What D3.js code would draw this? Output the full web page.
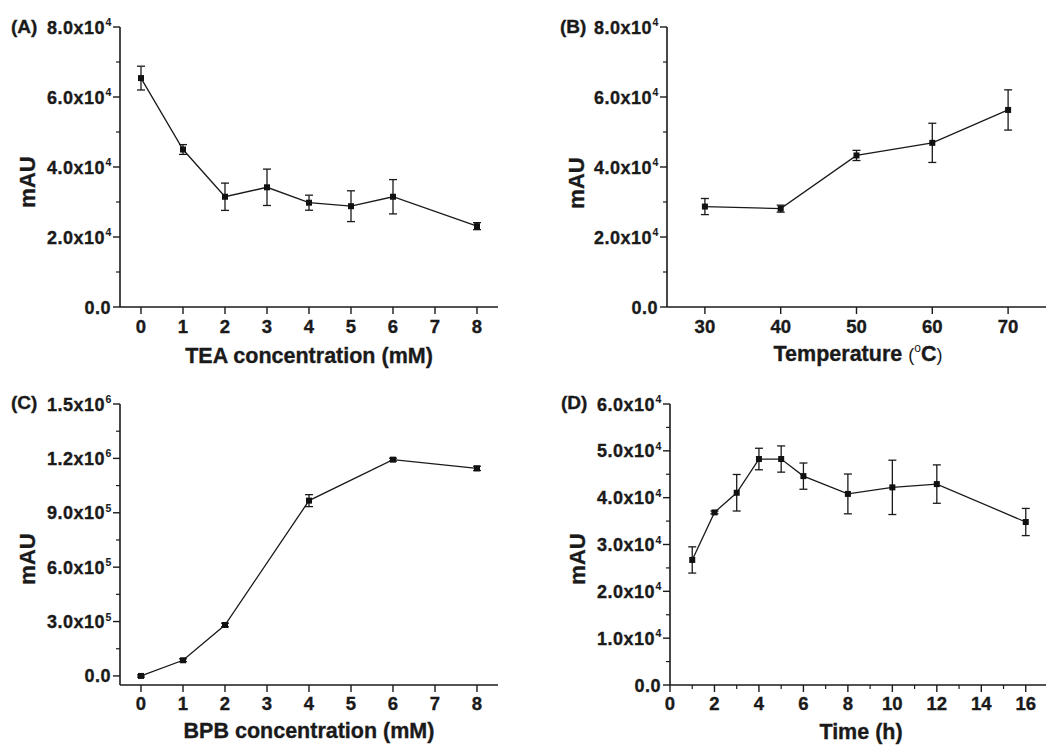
<!DOCTYPE html>
<html>
<head>
<meta charset="utf-8">
<script src="https://cdn.jsdelivr.net/npm/d3@7"></script>
<style>
  html, body { margin: 0; padding: 0; background: #fff; }
  svg { display: block; }
  text { font-family: Arial, "Liberation Sans", Helvetica, sans-serif; font-weight: bold; fill: #1a1a1a; stroke: #1a1a1a; stroke-width: 0.35px; }
</style>
</head>
<body>
<svg id="chart" width="1046" height="749"></svg>
<script>
// ---------- Data ----------
// Panel A: TEA concentration
const teaX   = [0, 1, 2, 3, 4, 5, 6, 8];
const teaY   = [65400, 45000, 31500, 34200, 29800, 28800, 31500, 23100];
const teaErr = [3400, 1400, 3900, 5200, 2150, 4400, 4900, 1000];
const teaXTicks = [0, 1, 2, 3, 4, 5, 6, 7, 8];
const teaYTicks = [0, 20000, 40000, 60000, 80000];

// Panel B: Temperature
const tempX   = [30, 40, 50, 60, 70];
const tempY   = [28700, 28100, 43300, 46900, 56300];
const tempErr = [2300, 1000, 1450, 5600, 5750];
const tempXTicks = [30, 40, 50, 60, 70];
const tempYTicks = [0, 20000, 40000, 60000, 80000];

// Panel C: BPB concentration
const bpbX   = [0, 1, 2, 4, 6, 8];
const bpbY   = [0, 86400, 281000, 967000, 1193000, 1145000];
const bpbErr = [6000, 8000, 10000, 33000, 8000, 12000];
const bpbXTicks = [0, 1, 2, 3, 4, 5, 6, 7, 8];
const bpbYTicks = [0, 300000, 600000, 900000, 1200000, 1500000];

// Panel D: Time
const timeX   = [1, 2, 3, 4, 5, 6, 8, 10, 12, 16];
const timeY   = [26700, 36850, 41050, 48250, 48250, 44600, 40800, 42200, 42900, 34800];
const timeErr = [2800, 300, 3900, 2300, 2800, 2800, 4250, 5800, 4100, 2900];
const timeXTicks = [0, 2, 4, 6, 8, 10, 12, 14, 16];
const timeYTicks = [0, 10000, 20000, 30000, 40000, 50000, 60000];

// ---------- Drawing ----------
const svg = d3.select("#chart");
const INK = "#1a1a1a";

function sciParts(v) {
  if (v === 0) return ["0.0", null];
  const e = Math.floor(Math.log10(Math.abs(v)) + 1e-9);
  const m = v / Math.pow(10, e);
  return [m.toFixed(1) + "x10", String(e)];
}

function panel(cfg) {
  const g = svg.append("g");
  const x = d3.scaleLinear().domain(cfg.xDomain).range(cfg.xRange);
  const y = d3.scaleLinear().domain(cfg.yDomain).range(cfg.yRange);
  const x0 = cfg.xRange[0], yb = cfg.yRange[0];

  // axis lines
  g.append("line").attr("x1", x0).attr("x2", x0)
    .attr("y1", y(cfg.yTicks[cfg.yTicks.length - 1])).attr("y2", yb)
    .attr("stroke", INK).attr("stroke-width", 1.6);
  g.append("line").attr("x1", x0).attr("x2", cfg.xRange[1])
    .attr("y1", yb).attr("y2", yb)
    .attr("stroke", INK).attr("stroke-width", 1.6);

  // y major ticks + labels
  cfg.yTicks.forEach(v => {
    const yy = y(v);
    g.append("line").attr("x1", x0 - 7).attr("x2", x0).attr("y1", yy).attr("y2", yy)
      .attr("stroke", INK).attr("stroke-width", 1.4);
    const [main, sup] = sciParts(v);
    const supW = sup ? 6 : 0;
    g.append("text").attr("x", x0 - 9 - supW).attr("y", yy + 6.5)
      .attr("text-anchor", "end").attr("font-size", 18).attr("letter-spacing", 0.5)
      .text(main);
    if (sup) {
      g.append("text").attr("x", x0 - 9 - supW + 0.5).attr("y", yy - 1)
        .attr("text-anchor", "start").attr("font-size", 10.5)
        .style("stroke-width", "0.1px")
        .text(sup);
    }
  });
  // y minor ticks (midpoints)
  for (let i = 0; i < cfg.yTicks.length - 1; i++) {
    const yy = y((cfg.yTicks[i] + cfg.yTicks[i + 1]) / 2);
    g.append("line").attr("x1", x0 - 4).attr("x2", x0).attr("y1", yy).attr("y2", yy)
      .attr("stroke", INK).attr("stroke-width", 1.2);
  }

  // x ticks
  cfg.xTicks.forEach(v => {
    const xx = x(v);
    g.append("line").attr("x1", xx).attr("x2", xx).attr("y1", yb).attr("y2", yb + 7)
      .attr("stroke", INK).attr("stroke-width", 1.4);
    g.append("text").attr("x", xx).attr("y", yb + cfg.xLabelDy)
      .attr("text-anchor", "middle").attr("font-size", 18.5).text(v);
  });
  if (cfg.xMinor) {
    cfg.xMinor.forEach(v => {
      const xx = x(v);
      g.append("line").attr("x1", xx).attr("x2", xx).attr("y1", yb).attr("y2", yb + 4)
        .attr("stroke", INK).attr("stroke-width", 1.2);
    });
  }

  // x title
  const xt = g.append("text").attr("x", cfg.xTitleX).attr("y", cfg.xTitleY)
    .attr("text-anchor", "middle").attr("font-size", 21.5);
  cfg.xTitle(xt);

  // y title
  g.append("text").attr("transform", `translate(${cfg.yTitleX},${cfg.yTitleY}) rotate(-90)`)
    .attr("text-anchor", "middle").attr("font-size", 22).text("mAU");

  // panel label
  g.append("text").attr("x", cfg.labelX).attr("y", cfg.labelY)
    .attr("font-size", 19).text(cfg.label);

  // data line
  const pts = cfg.xs.map((d, i) => [d, cfg.ys[i], cfg.errs[i]]);
  g.append("path").datum(pts)
    .attr("d", d3.line().x(d => x(d[0])).y(d => y(d[1])))
    .attr("fill", "none").attr("stroke", INK).attr("stroke-width", 1.3);

  // error bars
  const eb = g.selectAll(".eb").data(pts).enter().append("g");
  eb.append("line").attr("x1", d => x(d[0])).attr("x2", d => x(d[0]))
    .attr("y1", d => y(d[1] + d[2])).attr("y2", d => y(d[1] - d[2]))
    .attr("stroke", INK).attr("stroke-width", 1.3);
  [1, -1].forEach(s => {
    eb.append("line").attr("x1", d => x(d[0]) - 4).attr("x2", d => x(d[0]) + 4)
      .attr("y1", d => y(d[1] + s * d[2])).attr("y2", d => y(d[1] + s * d[2]))
      .attr("stroke", INK).attr("stroke-width", 1.3);
  });

  // markers
  g.selectAll(".mk").data(pts).enter().append("rect")
    .attr("x", d => x(d[0]) - 3).attr("y", d => y(d[1]) - 3)
    .attr("width", 6).attr("height", 6).attr("fill", "#111");
}

panel({
  label: "(A)", labelX: 11, labelY: 33,
  xs: teaX, ys: teaY, errs: teaErr,
  xDomain: [-0.5, 8.5], xRange: [120, 498],
  yDomain: [0, 80000], yRange: [307, 27],
  xTicks: teaXTicks, yTicks: teaYTicks, xLabelDy: 26,
  xTitleX: 309, xTitleY: 363,
  xTitle: t => t.text("TEA concentration (mM)"),
  yTitleX: 35, yTitleY: 182
});

panel({
  label: "(B)", labelX: 560, labelY: 33,
  xs: tempX, ys: tempY, errs: tempErr,
  xDomain: [25, 75], xRange: [667, 1046],
  yDomain: [0, 80000], yRange: [307, 27],
  xTicks: tempXTicks, yTicks: tempYTicks, xLabelDy: 26,
  xTitleX: 858, xTitleY: 361,
  xTitle: t => {
    t.append("tspan").text("Temperature ");
    t.append("tspan").attr("font-weight", "normal").attr("font-size", 18).style("stroke-width", "0px").text("(");
    t.append("tspan").attr("font-weight", "normal").attr("font-size", 12).style("stroke-width", "0px").attr("dy", -9).text("o");
    t.append("tspan").attr("dy", 9).text("C");
    t.append("tspan").attr("font-weight", "normal").attr("font-size", 18).style("stroke-width", "0px").text(")");
  },
  yTitleX: 584, yTitleY: 183
});

panel({
  label: "(C)", labelX: 11, labelY: 409,
  xs: bpbX, ys: bpbY, errs: bpbErr,
  xDomain: [-0.5, 8.5], xRange: [120, 498],
  yDomain: [-50000, 1500000], yRange: [685, 404],
  xTicks: bpbXTicks, yTicks: bpbYTicks, xLabelDy: 25,
  xTitleX: 309, xTitleY: 738,
  xTitle: t => t.text("BPB concentration (mM)"),
  yTitleX: 35, yTitleY: 559
});

panel({
  label: "(D)", labelX: 561, labelY: 409,
  xs: timeX, ys: timeY, errs: timeErr,
  xDomain: [0, 17], xRange: [670, 1048],
  yDomain: [0, 60000], yRange: [685, 404],
  xTicks: timeXTicks, xMinor: [1, 3, 5, 7, 9, 11, 13, 15], yTicks: timeYTicks, xLabelDy: 25,
  xTitleX: 861, xTitleY: 739,
  xTitle: t => t.text("Time (h)"),
  yTitleX: 585, yTitleY: 559
});
</script>
</body>
</html>
